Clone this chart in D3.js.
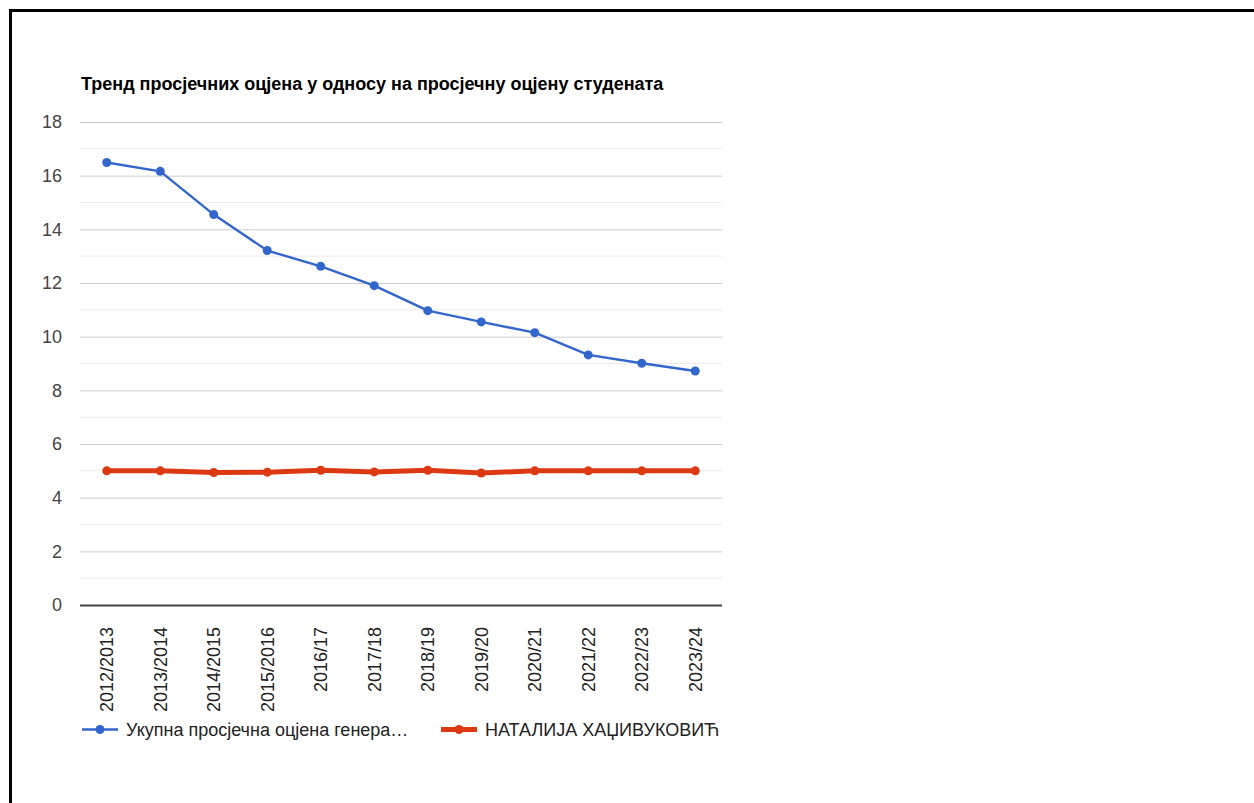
<!DOCTYPE html>
<html>
<head>
<meta charset="utf-8">
<script src="https://cdn.jsdelivr.net/npm/d3@7"></script>
<style>
  body { margin: 0; background: #fff; font-family: "Liberation Sans", Arial, sans-serif; }
  #frame { position: absolute; left: 9px; top: 9px; width: 1400px; height: 1000px; border: 3px solid #000; box-sizing: border-box; }
  #chart { position: absolute; left: 0; top: 0; }
</style>
</head>
<body>
<div id="frame"></div>
<div id="chart"></div>
<script>
const years = ["2012/2013", "2013/2014", "2014/2015", "2015/2016", "2016/17", "2017/18",
    "2018/19", "2019/20", "2020/21", "2021/22", "2022/23", "2023/24"];
const generationAvg = [16.49, 16.16, 14.55, 13.21, 12.62, 11.90, 10.97, 10.55, 10.15, 9.32, 9.01, 8.72];
const studentAvg = [5.0, 5.0, 4.94, 4.95, 5.02, 4.96, 5.02, 4.92, 5.0, 5.0, 5.0, 5.0];
const yTicks = [0, 2, 4, 6, 8, 10, 12, 14, 16, 18];
const seriesNames = ["Укупна просјечна оцјена генера…", "НАТАЛИЈА ХАЏИВУКОВИЋ"];
const chartTitle = "Тренд просјечних оцјена у односу на просјечну оцјену студената";

const width = 1254, height = 803;
const plotLeft = 80, plotRight = 722, plotTop = 122, plotBottom = 605;

const svg = d3.select("#chart").append("svg")
    .attr("width", width)
    .attr("height", height);

const x = d3.scaleBand().domain(years).range([plotLeft, plotRight]);
const y = d3.scaleLinear().domain([0, 18]).range([plotBottom, plotTop]);
const cx = d => x(d) + x.bandwidth() / 2;

svg.append("text")
    .attr("x", 81)
    .attr("y", 90)
    .style("font-size", "18px")
    .style("font-weight", "bold")
    .attr("fill", "#000")
    .text(chartTitle);

// minor gridlines between the labelled ones
const minor = d3.range(1, 18, 2);
svg.append("g").selectAll("line")
    .data(minor)
    .join("line")
    .attr("x1", plotLeft).attr("x2", plotRight)
    .attr("y1", d => y(d)).attr("y2", d => y(d))
    .attr("stroke", "#ebebeb");

const yAxis = svg.append("g")
    .attr("transform", `translate(${plotLeft},0)`)
    .call(d3.axisLeft(y).tickValues(yTicks).tickSize(-(plotRight - plotLeft)).tickPadding(18));
yAxis.select(".domain").remove();
yAxis.selectAll(".tick line").attr("stroke", d => d === 0 ? "#444" : "#ccc").attr("stroke-width", d => d === 0 ? 1.8 : 1);
yAxis.selectAll(".tick text")
    .style("font-size", "18px")
    .style("font-family", "Liberation Sans, Arial, sans-serif")
    .attr("fill", "#444");

svg.append("g").selectAll("text")
    .data(years)
    .join("text")
    .attr("transform", d => `translate(${cx(d)},627) rotate(-90)`)
    .attr("text-anchor", "end")
    .attr("dy", "0.35em")
    .style("font-size", "18px")
    .attr("fill", "#222")
    .text(d => d);

const line = d3.line().x((d, i) => cx(years[i])).y(d => y(d));

svg.append("path")
    .datum(studentAvg)
    .attr("d", line)
    .attr("fill", "none")
    .attr("stroke", "#dc3912")
    .attr("stroke-width", 5)
    .attr("stroke-linejoin", "round");
svg.append("g").selectAll("circle")
    .data(studentAvg)
    .join("circle")
    .attr("cx", (d, i) => cx(years[i]))
    .attr("cy", d => y(d))
    .attr("r", 4.5)
    .attr("fill", "#dc3912");

svg.append("path")
    .datum(generationAvg)
    .attr("d", line)
    .attr("fill", "none")
    .attr("stroke", "#3366cc")
    .attr("stroke-width", 2.4)
    .attr("stroke-linejoin", "round");
svg.append("g").selectAll("circle")
    .data(generationAvg)
    .join("circle")
    .attr("cx", (d, i) => cx(years[i]))
    .attr("cy", d => y(d))
    .attr("r", 4.5)
    .attr("fill", "#3366cc");

// legend
const legend = [
    { name: seriesNames[0], color: "#3366cc", w: 2.4, x: 82 },
    { name: seriesNames[1], color: "#dc3912", w: 5, x: 441 }
];
svg.append("defs").append("clipPath").attr("id", "legclip")
    .append("rect").attr("x", 0).attr("y", 700).attr("width", plotRight).attr("height", 60);
const lg = svg.append("g").attr("clip-path", "url(#legclip)")
    .selectAll("g").data(legend).join("g")
    .attr("transform", d => `translate(${d.x},729.5)`);
lg.append("line").attr("x1", 0).attr("x2", 36)
    .attr("stroke", d => d.color).attr("stroke-width", d => d.w);
lg.append("circle").attr("cx", 18).attr("r", 4.5).attr("fill", d => d.color);
lg.append("text").attr("x", 44).attr("dy", "0.35em")
    .style("font-size", "18px").attr("fill", "#222")
    .text(d => d.name);
</script>
</body>
</html>
